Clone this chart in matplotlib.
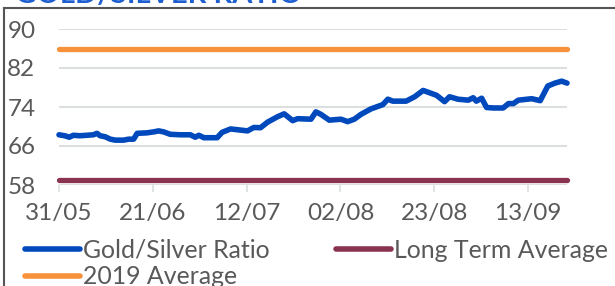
import matplotlib
matplotlib.use("Agg")
import matplotlib.pyplot as plt
from matplotlib.lines import Line2D

# ---- data (days since 31/05) ----
days = [0.0, 1.3, 2.3, 3.2, 4.7, 7.7, 8.5, 9.2, 10.3, 11.5, 12.6, 14.4, 15.6, 16.7,
        17.5, 19.7, 21.2, 22.3, 23.4, 24.9, 27.2, 29.4, 30.5, 31.3, 32.4, 35.4, 36.5,
        38.4, 42.2, 43.6, 45.1, 46.7, 48.9, 50.4, 52.3, 53.4, 56.4, 57.5, 58.6, 60.5,
        63.1, 64.6, 66.1, 67.6, 69.8, 72.5, 73.6, 74.7, 77.7, 79.6, 81.5, 84.5, 86.3,
        87.4, 89.3, 91.6, 92.7, 93.4, 94.6, 95.7, 97.2, 99.4, 100.6, 101.7, 102.8,
        105.8, 107.7, 109.4, 111.0, 112.5, 113.7]
ratio = [68.3, 68.1, 67.8, 68.2, 68.1, 68.3, 68.6, 68.1, 67.9, 67.4, 67.2, 67.2, 67.4, 67.4,
         68.6, 68.7, 68.9, 69.1, 68.9, 68.4, 68.3, 68.3, 67.8, 68.2, 67.7, 67.7, 68.8,
         69.5, 69.1, 69.8, 69.75, 70.9, 72.0, 72.6, 71.2, 71.6, 71.5, 73.0, 72.5, 71.3,
         71.5, 71.0, 71.5, 72.5, 73.6, 74.5, 75.6, 75.2, 75.2, 76.1, 77.4, 76.4, 75.1,
         76.1, 75.6, 75.4, 75.9, 75.2, 75.8, 73.9, 73.8, 73.8, 74.7, 74.7, 75.4,
         75.7, 75.3, 78.3, 78.9, 79.3, 78.9]
avg_2019 = 86.0
long_term_avg = 59.0

tick_days = [0, 21, 42, 63, 84, 105]
tick_labels = ["31/05", "21/06", "12/07", "02/08", "23/08", "13/09"]
y_ticks = [58, 66, 74, 82, 90]

BLUE = "#0049BC"
ORANGE = "#F7913A"
MAROON = "#893350"
GRID = "#DCDFDF"
TEXT = "#595959"

plt.rcParams['font.family'] = ['Lato', 'DejaVu Sans']
FS = 17.5

W, H = 615, 286
fig = plt.figure(figsize=(W / 100, H / 100), dpi=100)
ax = fig.add_axes([59 / W, 1 - 185 / H, (567 - 59) / W, (185 - 29) / H])

span = [days[0], days[-1]]
l_ratio, = ax.plot(days, ratio, color=BLUE, lw=4.0, solid_capstyle='round',
                   solid_joinstyle='round', clip_on=False, zorder=4)
l_2019, = ax.plot(span, [avg_2019, avg_2019], color=ORANGE, lw=3.8,
                  solid_capstyle='round', clip_on=False, zorder=3)
l_lt, = ax.plot(span, [long_term_avg, long_term_avg], color=MAROON, lw=3.8,
                solid_capstyle='round', clip_on=False, zorder=3)

ax.set_xlim(0, days[-1])
ax.set_ylim(58, 90)
ax.set_yticks(y_ticks)
ax.set_xticks(tick_days)
ax.set_xticklabels(tick_labels)
ax.yaxis.grid(True, color=GRID, lw=1.5)
ax.set_axisbelow(True)
for s in ax.spines.values():
    s.set_visible(False)
ax.tick_params(axis='y', length=0, pad=17, labelsize=FS, labelcolor=TEXT)
ax.tick_params(axis='x', length=5, width=1.2, color=GRID, pad=8,
               labelsize=FS, labelcolor=TEXT)

handles = [l_ratio, l_2019, l_lt]
labels = ["Gold/Silver Ratio", "2019 Average", "Long Term Average"]
leg = fig.legend(handles, labels, ncol=2, loc='upper left',
                 bbox_to_anchor=(25 / W, 1 - 239 / H), frameon=False,
                 prop={'size': 17.9}, labelcolor=TEXT, handlelength=2.2,
                 handletextpad=0.15, columnspacing=2.65, labelspacing=0.13,
                 borderpad=0, borderaxespad=0)
for h in leg.get_lines():
    h.set_linewidth(4.0)
    h.set_solid_capstyle('round')

# frame around the panel
fig.add_artist(Line2D([4 / W, 1.0], [1 - 8 / H, 1 - 8 / H], color="#555555", lw=1.5))
fig.add_artist(Line2D([4 / W, 4 / W], [0, 1 - 8 / H], color="#555555", lw=1.5))

# title (mostly cropped above)
fig.text(15 / W, 1 - 3 / H, "GOLD/SILVER RATIO", color="#1D5FD0", fontsize=21,
         fontweight='bold', va='baseline', ha='left')

fig.savefig("out.png", dpi=100)
